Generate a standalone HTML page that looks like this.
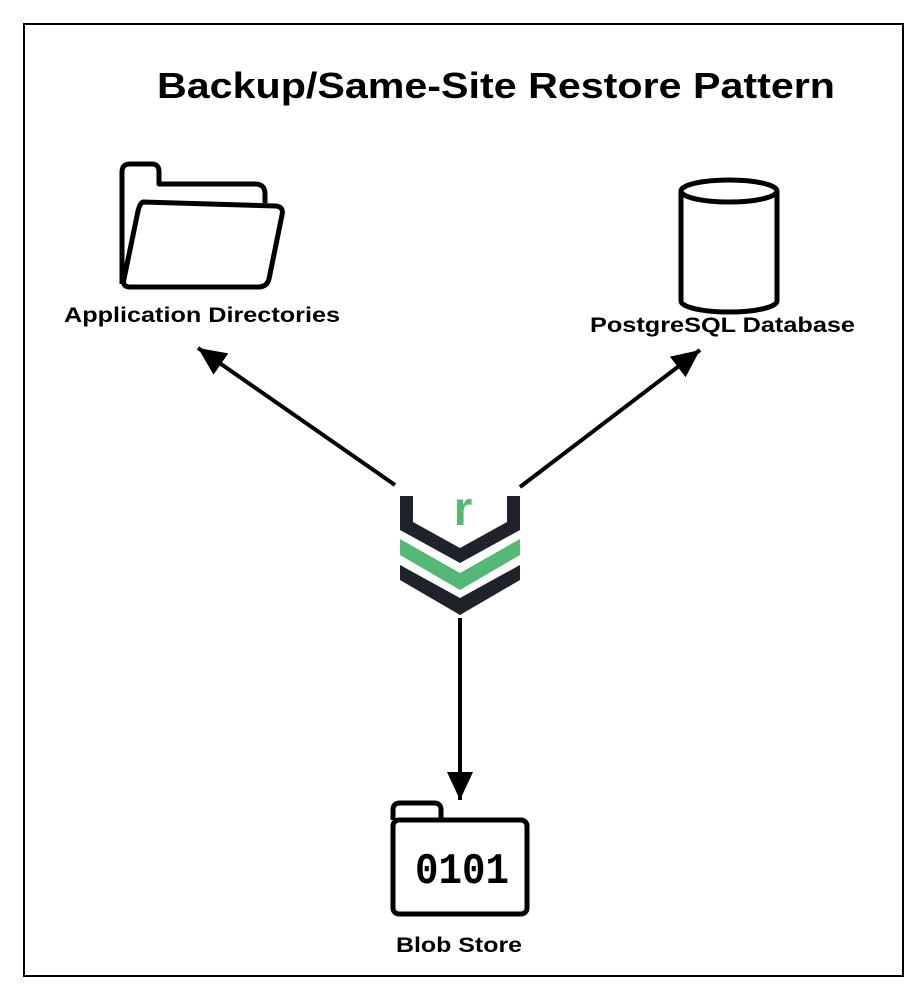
<!DOCTYPE html>
<html><head><meta charset="utf-8"><style>
html,body{margin:0;padding:0;background:#fff;width:916px;height:1000px;overflow:hidden}
</style></head><body>
<svg width="916" height="1000" xmlns="http://www.w3.org/2000/svg">
<defs>
<marker id="a2" markerWidth="28" markerHeight="34" refX="28" refY="13" orient="auto" markerUnits="userSpaceOnUse"><path d="M0,0 L28,13 L0,26 z" fill="#000"/></marker></defs>
<rect x="24" y="24" width="879" height="952" fill="#fff" stroke="#000" stroke-width="2"/>
<text x="157" y="98" font-family="Liberation Sans, sans-serif" font-weight="bold" font-size="36" fill="#000" textLength="678" lengthAdjust="spacingAndGlyphs">Backup/Same-Site Restore Pattern</text>
<g fill="none" stroke="#000" stroke-width="5" stroke-linejoin="round">
<path d="M122,284 L122,172 Q122,164 130,164 L152,164 Q159,164 159,172 L159,184 L255,184 Q265,184 265,194 L265,203"/>
<path d="M143,202 L276,206 Q284,207 282,215 L269,279 Q267,287 258,287 L130,287 Q122,287 124,279 L138,211 Q140,203 143,202 z"/>
</g>
<text x="64" y="322" font-family="Liberation Sans, sans-serif" font-weight="bold" font-size="21" fill="#000" textLength="276" lengthAdjust="spacingAndGlyphs">Application Directories</text>
<g fill="none" stroke="#000" stroke-width="5">
<ellipse cx="729" cy="191" rx="48" ry="11"/>
<path d="M681,191 L681,301 A48,11 0 0 0 777,301 L777,191"/>
</g>
<text x="590" y="332" font-family="Liberation Sans, sans-serif" font-weight="bold" font-size="21" fill="#000" textLength="265" lengthAdjust="spacingAndGlyphs">PostgreSQL Database</text>
<line x1="395" y1="485" x2="198" y2="348" stroke="#000" stroke-width="4" marker-end="url(#a2)"/>
<line x1="520" y1="487" x2="700" y2="350" stroke="#000" stroke-width="4" marker-end="url(#a2)"/>
<line x1="460" y1="618" x2="460" y2="800" stroke="#000" stroke-width="4" marker-end="url(#a2)"/>
<path d="M400,496 L413,496 L413,522 L460,548 L507,522 L507,496 L520,496 L520,530 L460,563 L400,530 z" fill="#1f222b"/>
<path d="M400,539 L460,573 L520,539 L520,555 L460,590 L400,555 z" fill="#55b874"/>
<path d="M400,565 L460,598 L520,565 L520,580 L460,615 L400,580 z" fill="#1f222b"/>
<text x="463" y="525" text-anchor="middle" font-family="Liberation Sans, sans-serif" font-weight="bold" font-size="48" fill="#55b874">r</text>
<g fill="none" stroke="#000" stroke-width="5" stroke-linejoin="round">
<path d="M393,820 L393,810 Q393,803 400,803 L434,803 Q441,803 441,810 L441,820"/>
<rect x="393" y="820" width="134" height="94" rx="6"/>
</g>
<text x="415" y="883" font-family="Liberation Mono, monospace" font-weight="bold" font-size="44" fill="#000" textLength="94" lengthAdjust="spacingAndGlyphs">0101</text>
<text x="396" y="952" font-family="Liberation Sans, sans-serif" font-weight="bold" font-size="21" fill="#000" textLength="126" lengthAdjust="spacingAndGlyphs">Blob Store</text>
</svg>
</body></html>
